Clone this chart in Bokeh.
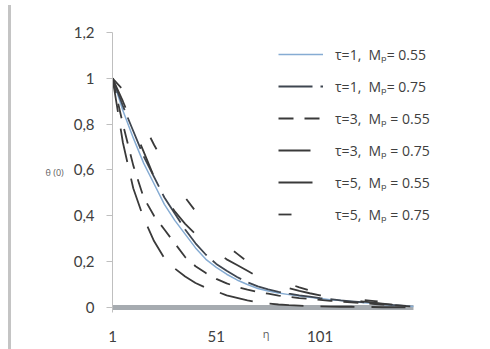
from bokeh.plotting import figure
from bokeh.models import FixedTicker, CustomJSTickFormatter, Legend, InlineStyleSheet
from bokeh.embed import file_html
from bokeh.resources import INLINE

# eta positions (category index along the profile)
eta = [1, 6, 11, 16, 21, 26, 31, 36, 41, 46, 51, 56, 61, 66, 71, 76, 81, 86,
       91, 96, 101, 106, 111, 116, 121, 126, 131, 136, 141, 146]

# temperature profiles theta(eta)
theta_t1_m055 = [1.0, 0.86, 0.74, 0.63, 0.54, 0.45, 0.38, 0.32, 0.26, 0.21,
                 0.175, 0.145, 0.12, 0.10, 0.083, 0.072, 0.063, 0.056, 0.05, 0.044,
                 0.039, 0.034, 0.03, 0.026, 0.022, 0.018, 0.014, 0.01, 0.007, 0.004]
theta_t1_m075 = [1.0, 0.88, 0.77, 0.66, 0.57, 0.48, 0.41, 0.34, 0.28, 0.23,
                 0.19, 0.16, 0.133, 0.11, 0.092, 0.079, 0.068, 0.06, 0.053, 0.047,
                 0.041, 0.036, 0.031, 0.027, 0.023, 0.019, 0.015, 0.011, 0.008, 0.005]
theta_t3_m055 = [1.0, 0.80, 0.62, 0.48, 0.40, 0.34, 0.28, 0.22, 0.18, 0.15,
                 0.125, 0.105, 0.09, 0.078, 0.068, 0.06, 0.052, 0.046, 0.041, 0.037,
                 0.033, 0.029, 0.026, 0.022, 0.019, 0.016, 0.013, 0.01, 0.007, 0.004]
theta_t3_m075 = [1.0, 0.90, 0.79, 0.68, 0.57, 0.48, 0.42, 0.365, 0.32, 0.28,
                 0.24, 0.21, 0.185, 0.16, 0.135, 0.115, 0.098, 0.084, 0.072, 0.062,
                 0.053, 0.045, 0.038, 0.032, 0.027, 0.022, 0.017, 0.012, 0.008, 0.004]
theta_t5_m055 = [1.0, 0.72, 0.52, 0.39, 0.29, 0.215, 0.17, 0.135, 0.107, 0.086,
                 0.07, 0.053, 0.042, 0.031, 0.022, 0.017, 0.013, 0.01, 0.008, 0.006,
                 0.005, 0.004, 0.003, 0.003, 0.002, 0.002, 0.001, 0.001, 0.0, 0.0]
theta_t5_m075 = [1.0, 0.95, 0.89, 0.80, 0.71, 0.63, 0.55, 0.48, 0.42, 0.36,
                 0.315, 0.27, 0.235, 0.20, 0.17, 0.145, 0.122, 0.103, 0.088, 0.074,
                 0.062, 0.052, 0.044, 0.038, 0.033, 0.029, 0.025, 0.019, 0.012, 0.006]

series_labels = ["τ=1,  Mₚ= 0.55", "τ=1,  Mₚ= 0.75", "τ=3,  Mₚ = 0.55",
                 "τ=3,  Mₚ = 0.75", "τ=5,  Mₚ = 0.55", "τ=5,  Mₚ = 0.75"]

y_ticks = [0, 0.2, 0.4, 0.6, 0.8, 1.0, 1.2]
x_ticks = [1, 51, 101]

TEXT = "#404040"

p = figure(width=490, height=349, output_backend="svg", toolbar_location=None,
           x_range=(eta[0], 180.7), y_range=(-0.022, 1.2),
           min_border_left=112, min_border_right=5,
           min_border_top=32, min_border_bottom=37)
p.background_fill_color = "white"
p.border_fill_color = "white"
p.outline_line_color = None
p.grid.visible = False

# grey chart-area edge on the left, drawn above the canvas layers
p.stylesheets = [InlineStyleSheet(css=(
    ":host { position: relative; }"
    ":host::after { content: ''; position: absolute; left: 8px; top: 5px;"
    " width: 3px; height: 344px; background: #c4c4c4; pointer-events: none;"
    " z-index: 1000; }"))]

# thick grey category-axis band along theta = 0, spanning the data
p.line([eta[0], eta[-1]], [0, 0], line_color="#a6abb0", line_width=5)

styles = [
    dict(color="#86acd3", width=1.5, dash="solid"),
    dict(color="#3f4650", width=1.8, dash="34 8"),
    dict(color="#3a3a3a", width=1.8, dash="15 11"),
    dict(color="#3a3a3a", width=1.8, dash="32 40"),
    dict(color="#3a3a3a", width=1.8, dash="34 17"),
    dict(color="#3a3a3a", width=1.8, dash="13 58"),
]
series = [theta_t1_m055, theta_t1_m075, theta_t3_m055,
          theta_t3_m075, theta_t5_m055, theta_t5_m075]

items = []
for vals, st, lab in zip(series, styles, series_labels):
    r = p.line(eta, vals, line_color=st["color"], line_width=st["width"],
               line_dash=st["dash"])
    items.append((lab, [r]))

legend = Legend(items=items, location=(166, 88))
legend.background_fill_alpha = 0
legend.border_line_color = None
legend.glyph_width = 45
legend.glyph_height = 20
legend.label_height = 20
legend.spacing = 12
legend.padding = 0
legend.margin = 0
legend.label_standoff = 12
legend.label_text_font = "Open Sans"
legend.label_text_font_size = "14px"
legend.label_text_color = TEXT
p.add_layout(legend)

# y axis
ya = p.yaxis[0]
ya.ticker = FixedTicker(ticks=y_ticks)
ya.formatter = CustomJSTickFormatter(
    code="return tick.toFixed(1).replace(/\\.0$/, '').replace('.', ',');")
ya.axis_line_color = "#bfbfbf"
ya.major_tick_line_color = "#bfbfbf"
ya.major_tick_out = 6
ya.major_tick_in = 0
ya.minor_tick_line_color = None
ya.major_label_standoff = 12
ya.major_label_text_font = "Lato"
ya.major_label_text_font_size = "15px"
ya.major_label_text_color = TEXT
ya.axis_label = "θ (0)"
ya.axis_label_orientation = "horizontal"
ya.axis_label_text_font = "Open Sans"
ya.axis_label_text_font_style = "normal"
ya.axis_label_text_font_size = "9px"
ya.axis_label_text_color = "#606060"
ya.axis_label_standoff = 7

# x axis: labels only, the band above stands in for the axis line
xa = p.xaxis[0]
xa.ticker = FixedTicker(ticks=x_ticks)
xa.axis_line_color = None
xa.major_tick_out = 0
xa.major_tick_in = 0
xa.minor_tick_line_color = None
xa.major_label_standoff = 18
xa.major_label_text_font = "Lato"
xa.major_label_text_font_size = "15px"
xa.major_label_text_color = TEXT
# trailing no-break spaces pull the centred label back over the data span
xa.axis_label = "η" + "\u00a0" * 23
xa.axis_label_text_font = "Open Sans"
xa.axis_label_text_font_style = "normal"
xa.axis_label_text_font_size = "11px"
xa.axis_label_text_color = "#606060"
xa.axis_label_standoff = -19

open("out.html", "w").write(file_html(p, INLINE))
